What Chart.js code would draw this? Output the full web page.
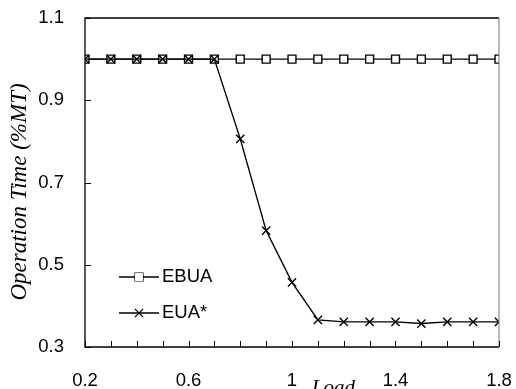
<!DOCTYPE html>
<html>
<head>
<meta charset="utf-8">
<script src="https://cdn.jsdelivr.net/npm/chart.js@4/dist/chart.umd.min.js"></script>
<style>
html,body{margin:0;padding:0;background:#fff;}
canvas{display:block;}
</style>
</head>
<body>
<canvas id="c" width="516" height="389"></canvas>
<script>
// ---- data ----
const loads = [0.2,0.3,0.4,0.5,0.6,0.7,0.8,0.9,1.0,1.1,1.2,1.3,1.4,1.5,1.6,1.7,1.8];
const ebua  = [1,1,1,1,1,1,1,1,1,1,1,1,1,1,1,1,1];
const euaStar = [1,1,1,1,1,1,0.806,0.583,0.457,0.366,0.361,0.361,0.361,0.357,0.361,0.361,0.361];
const seriesNames = ['EBUA','EUA*'];
const xTickLabels = [0.2,0.6,1.0,1.4,1.8];
const yTickLabels = [0.3,0.5,0.7,0.9,1.1];
const xTitle = 'Load';
const yTitle = 'Operation Time (%MT)';

const fmt = v => String(+(+v).toFixed(1));
const toXY = arr => arr.map((v,i)=>({x:loads[i], y:v}));

const FONT = '"Liberation Sans", Arial, sans-serif';
const SERIF = '"Liberation Serif", "Times New Roman", serif';
const TICK_SIZE = 18.5;

const decor = {
  id:'decor',
  afterDatasetsDraw(chart){
    const ctx = chart.ctx, a = chart.chartArea;
    const xs = chart.scales.x, ys = chart.scales.y;
    ctx.save();
    // frame
    ctx.lineWidth = 1.3;
    ctx.strokeStyle = '#000';
    ctx.beginPath();
    ctx.moveTo(a.right, a.top); ctx.lineTo(a.left, a.top);
    ctx.lineTo(a.left, a.bottom); ctx.lineTo(a.right, a.bottom);
    ctx.stroke();
    ctx.strokeStyle = '#777';
    ctx.lineWidth = 1;
    ctx.beginPath();
    ctx.moveTo(a.right, a.top); ctx.lineTo(a.right, a.bottom);
    ctx.stroke();
    // inward ticks
    ctx.strokeStyle = '#000';
    ctx.lineWidth = 1;
    ctx.beginPath();
    loads.forEach(v=>{
      const px = Math.round(xs.getPixelForValue(v))+0.5;
      ctx.moveTo(px, a.bottom); ctx.lineTo(px, a.bottom-6);
    });
    yTickLabels.forEach(v=>{
      const py = Math.round(ys.getPixelForValue(v))+0.5;
      ctx.moveTo(a.left, py); ctx.lineTo(a.left+6, py);
    });
    ctx.stroke();
    // axis titles
    ctx.fillStyle = '#000';
    ctx.font = 'italic 21px ' + SERIF;
    ctx.textAlign = 'center';
    ctx.textBaseline = 'middle';
    ctx.fillText(xTitle, xs.getPixelForValue(1.16), 388);
    ctx.font = 'italic 23px ' + SERIF;
    ctx.translate(20, 192);
    ctx.rotate(-Math.PI/2);
    ctx.fillText(yTitle, 0, 0);
    ctx.restore();
    // legend
    ctx.save();
    const items = [
      {name:seriesNames[0], style:'rect', y:277},
      {name:seriesNames[1], style:'crossRot', y:313}
    ];
    items.forEach((it,k)=>{
      const ds = chart.data.datasets[k];
      ctx.strokeStyle = '#000'; ctx.lineWidth = 1.3;
      ctx.beginPath(); ctx.moveTo(119, it.y); ctx.lineTo(159, it.y); ctx.stroke();
      ctx.fillStyle = '#fff';
      Chart.helpers.drawPoint(ctx, {pointStyle: it.style, radius: ds.pointRadius, borderWidth: 1.3}, 139, it.y);
      if (it.style==='rect') ctx.fill();
      ctx.fillStyle = '#000';
      ctx.font = TICK_SIZE + 'px ' + FONT;
      ctx.textAlign = 'left'; ctx.textBaseline = 'middle';
      ctx.fillText(it.name, 162, it.y);
    });
    ctx.restore();
  }
};

function zeroPad(s){ s.paddingTop = 0; s.paddingBottom = 0; s.paddingLeft = 0; s.paddingRight = 0; }

new Chart(document.getElementById('c'), {
  type:'line',
  data:{
    datasets:[
      {label:seriesNames[0], data:toXY(ebua), borderColor:'#000', borderWidth:1.4,
       pointStyle:'rect', pointRadius:5.6, pointBackgroundColor:'#fff', pointBorderColor:'#000',
       pointBorderWidth:1.4, order:2, tension:0},
      {label:seriesNames[1], data:toXY(euaStar), borderColor:'#000', borderWidth:1.4,
       pointStyle:'crossRot', pointRadius:5.8, pointBorderColor:'#000', pointBorderWidth:1.4,
       order:1, tension:0}
    ]
  },
  options:{
    responsive:false, animation:false,
    layout:{padding:{left:0,right:17,top:18,bottom:0}},
    plugins:{legend:{display:false}, tooltip:{enabled:false}},
    scales:{
      x:{type:'linear', min:0.2, max:1.8,
         afterBuildTicks(s){ s.ticks = xTickLabels.map(v=>({value:v})); },
         afterFit(s){ s.height = 42; zeroPad(s); },
         grid:{display:false, drawTicks:false}, border:{display:false},
         ticks:{padding:23, color:'#000', font:{family:FONT, size:TICK_SIZE}, maxRotation:0, autoSkip:false,
                callback:v=>fmt(v)}},
      y:{type:'linear', min:0.3, max:1.1,
         afterBuildTicks(s){ s.ticks = yTickLabels.map(v=>({value:v})); },
         afterFit(s){ s.width = 85; zeroPad(s); },
         grid:{display:false, drawTicks:false}, border:{display:false},
         ticks:{padding:21, color:'#000', font:{family:FONT, size:TICK_SIZE}, callback:v=>fmt(v)}}
    }
  },
  plugins:[decor]
});
</script>
</body>
</html>
